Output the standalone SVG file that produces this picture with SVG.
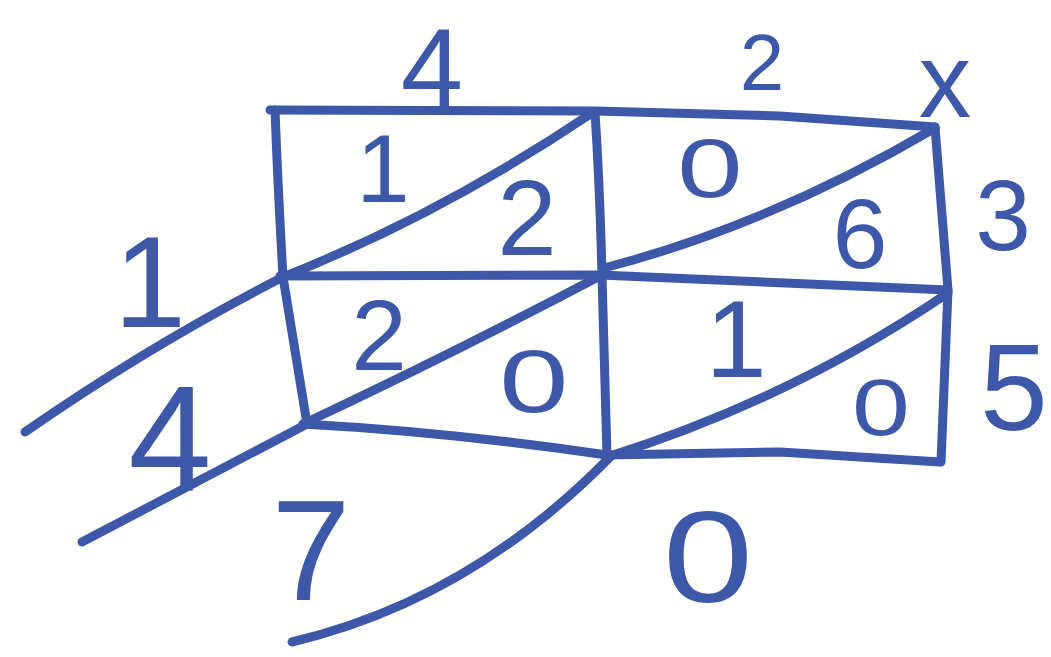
<svg xmlns="http://www.w3.org/2000/svg" width="1051" height="657" viewBox="0 0 1051 657">
<style>
.ln{fill:none;stroke:#3d58a9;stroke-width:9;stroke-linecap:round;stroke-linejoin:round}
.d{font-family:"Liberation Sans",Arial,sans-serif;fill:#3d58a9;text-anchor:middle}
</style>
<rect width="1051" height="657" fill="#ffffff"/>
<g id="grid">
<path class="ln" d="M270,110 L595,111 L780,116 L935,127"/>
<path class="ln" d="M275,110 Q278,190 283,277 L307,424"/>
<path class="ln" d="M280,276 L600,275 L948,290"/>
<path class="ln" d="M303,424 Q450,432 607,455 L780,452 L940,462"/>
<path class="ln" d="M935,127 L948,290 L941,462"/>
<path class="ln" d="M595,112 Q600,190 602,276 L607,456"/>
</g>
<g id="diagonals">
<path class="ln" d="M283,277 Q440,215 592,113"/>
<path class="ln" d="M604,268 Q770,225 935,128"/>
<path class="ln" d="M303,424 Q450,355 600,276"/>
<path class="ln" d="M607,457 Q790,400 948,293"/>
<path class="ln" d="M283,277 Q150,345 25,432"/>
<path class="ln" d="M307,424 L82,542"/>
<path class="ln" d="M610,457 Q470,600 292,642"/>
</g>
<g id="labels">
<text class="d" x="432" y="106" font-size="112">4</text>
<text class="d" x="762" y="90" font-size="80">2</text>
<text class="d" x="945" y="117" font-size="105">x</text>
<text class="d" x="383" y="202" font-size="96">1</text>
<text class="d" x="527" y="255" font-size="107">2</text>
<text class="d" transform="translate(710,197) scale(1.4,1)" x="0" y="0" font-size="84">0</text>
<text class="d" x="860" y="268" font-size="99">6</text>
<text class="d" x="1003" y="250" font-size="100">3</text>
<text class="d" x="150" y="327" font-size="130">1</text>
<text class="d" x="379" y="370" font-size="100">2</text>
<text class="d" transform="translate(534,412) scale(1.4,1)" x="0" y="0" font-size="89">0</text>
<text class="d" x="736" y="377" font-size="110">1</text>
<text class="d" transform="translate(881,435) scale(1.3,1)" x="0" y="0" font-size="80">0</text>
<text class="d" x="1014" y="430" font-size="122">5</text>
<text class="d" x="170" y="490" font-size="150">4</text>
<text class="d" x="311" y="600" font-size="142">7</text>
<text class="d" transform="translate(708,602) scale(1.25,1)" x="0" y="0" font-size="130">0</text>
</g>
</svg>
